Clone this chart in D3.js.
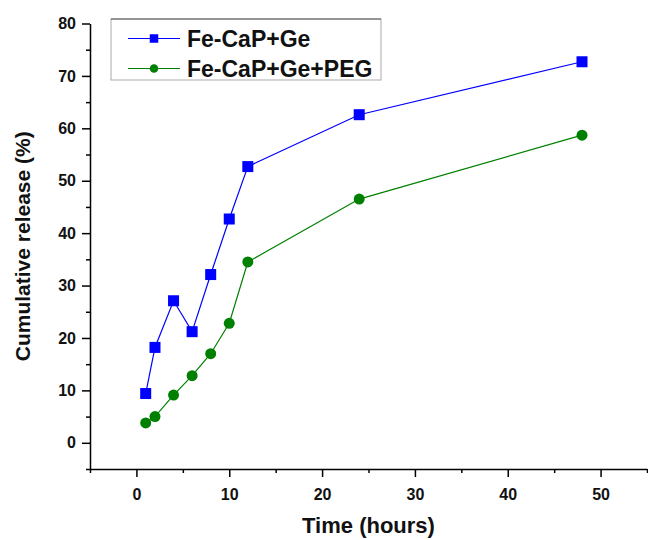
<!DOCTYPE html>
<meta charset="utf-8">
<head>
<script src="https://d3js.org/d3.v7.min.js"></script>
<style>
  body { margin: 0; background: #fff; }
  svg { display: block; font-family: "Liberation Sans", Arial, sans-serif; }
  .tick text { font-weight: bold; font-size: 16px; fill: #111; }
</style>
</head>
<body>
<svg id="chart" width="648" height="540"></svg>
<script>
// data
var hours = [1, 2, 4, 6, 8, 10, 12, 24, 48];
var feCaPGe = [9.4, 18.2, 27.1, 21.2, 32.1, 42.7, 52.7, 62.6, 72.7];
var feCaPGePEG = [3.8, 5.0, 9.1, 12.8, 17.0, 22.8, 34.5, 46.5, 58.7];
var seriesNames = ["Fe-CaP+Ge", "Fe-CaP+Ge+PEG"];
var xTicks = [0, 10, 20, 30, 40, 50];
var yTicks = [0, 10, 20, 30, 40, 50, 60, 70, 80];

var series = [
  { name: seriesNames[0], values: feCaPGe, color: "#0000ff", shape: "square" },
  { name: seriesNames[1], values: feCaPGePEG, color: "#008000", shape: "circle" }
];

var svg = d3.select("#chart");
var margin = { left: 90, right: 1, top: 23.5, bottom: 71 };
var width = 648 - margin.left - margin.right;
var height = 540 - margin.top - margin.bottom;

var g = svg.append("g").attr("transform", "translate(" + margin.left + "," + margin.top + ")");

var x = d3.scaleLinear().domain([-5, 55]).range([0, width]);
var y = d3.scaleLinear().domain([-5, 80]).range([height, 0]);

// minor ticks first
g.append("g")
  .attr("transform", "translate(0," + height + ")")
  .call(d3.axisBottom(x).tickValues(d3.range(-5, 56, 10)).tickSize(4).tickFormat(""))
  .call(a => a.select(".domain").remove())
  .selectAll("line").attr("stroke-width", 1.5);
g.append("g")
  .call(d3.axisLeft(y).tickValues(d3.range(-5, 80, 10)).tickSize(4).tickFormat(""))
  .call(a => a.select(".domain").remove())
  .selectAll("line").attr("stroke-width", 1.5);

// major axes
var xAxis = g.append("g")
  .attr("transform", "translate(0," + height + ")")
  .call(d3.axisBottom(x).tickValues(xTicks).tickSize(8).tickSizeOuter(0).tickPadding(12));
var yAxis = g.append("g")
  .call(d3.axisLeft(y).tickValues(yTicks).tickSize(8).tickSizeOuter(0).tickPadding(6));
[xAxis, yAxis].forEach(function(a) {
  a.select(".domain").attr("stroke-width", 1.5);
  a.selectAll(".tick line").attr("stroke-width", 1.5);
});

// axis titles
svg.append("text")
  .attr("x", margin.left + width / 2)
  .attr("y", 533)
  .attr("text-anchor", "middle")
  .style("font-weight", "bold").style("font-size", "22px").style("fill", "#111")
  .text("Time (hours)");
svg.append("text")
  .attr("transform", "translate(30," + (margin.top + height / 2) + ") rotate(-90)")
  .attr("text-anchor", "middle")
  .style("font-weight", "bold").style("font-size", "21px").style("fill", "#111")
  .text("Cumulative release (%)");

var line = d3.line()
  .x(function(d, i) { return x(hours[i]); })
  .y(function(d) { return y(d); });

function drawMarker(sel, shape, color, size) {
  if (shape === "square") {
    sel.append("rect")
      .attr("x", -size / 2).attr("y", -size / 2)
      .attr("width", size).attr("height", size)
      .attr("fill", color);
  } else {
    sel.append("circle").attr("r", size / 2).attr("fill", color);
  }
}

series.forEach(function(s) {
  g.append("path")
    .datum(s.values)
    .attr("fill", "none")
    .attr("stroke", s.color)
    .attr("stroke-width", 1.2)
    .attr("d", line);
  g.selectAll(null)
    .data(s.values)
    .enter()
    .append("g")
    .attr("transform", function(d, i) { return "translate(" + x(hours[i]) + "," + y(d) + ")"; })
    .each(function() { drawMarker(d3.select(this), s.shape, s.color, 11); });
});

// legend
var legend = svg.append("g");
legend.append("rect")
  .attr("x", 111).attr("y", 19).attr("width", 270).attr("height", 61)
  .attr("fill", "#fff").attr("stroke", "#aaa").attr("stroke-width", 1);
legend.append("line")
  .attr("x1", 111).attr("x2", 381).attr("y1", 19).attr("y2", 19)
  .attr("stroke", "#555").attr("stroke-width", 1.2);
series.forEach(function(s, i) {
  var ly = 38.5 + i * 30;
  legend.append("line")
    .attr("x1", 128).attr("x2", 180).attr("y1", ly).attr("y2", ly)
    .attr("stroke", s.color).attr("stroke-width", 1.2);
  var m = legend.append("g").attr("transform", "translate(154," + ly + ")");
  drawMarker(m, s.shape, s.color, 8.5);
  legend.append("text")
    .attr("x", 187).attr("y", ly + 8)
    .style("font-weight", "bold").style("font-size", "23px").style("fill", "#111")
    .text(s.name);
});
</script>
</body>
